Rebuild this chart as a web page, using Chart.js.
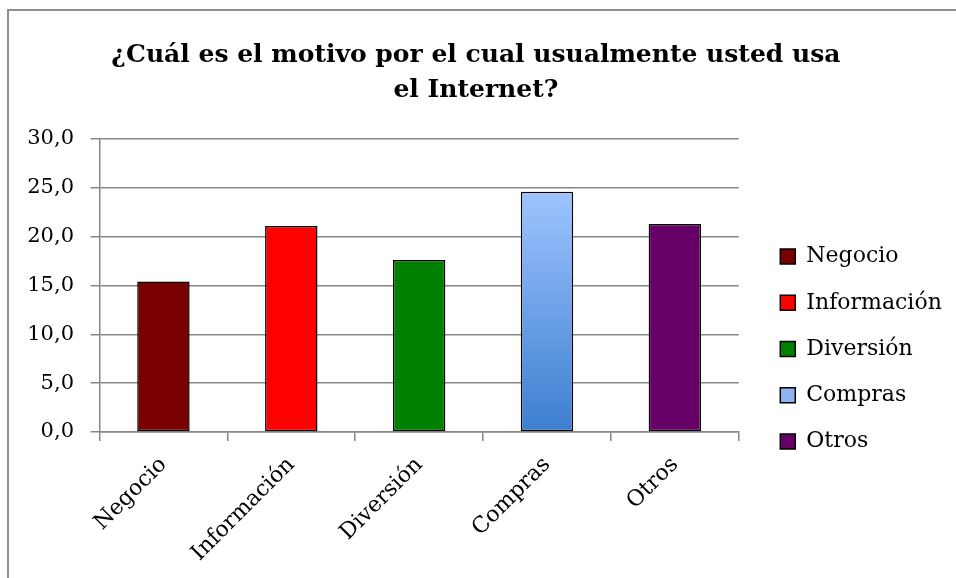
<!DOCTYPE html>
<html>
<head>
<meta charset="utf-8">
<script src="https://cdn.jsdelivr.net/npm/chart.js@4/dist/chart.umd.min.js"></script>
<style>
  html, body { margin: 0; padding: 0; background: #fff; }
  #wrap { position: relative; width: 956px; height: 578px; overflow: hidden; }
  #frame { position: absolute; left: 7px; top: 9px; width: 1000px; height: 1000px;
           border: 2px solid #8f8f8f; pointer-events: none; }
</style>
</head>
<body>
<div id="wrap">
  <canvas id="chart" width="956" height="578"></canvas>
  <div id="frame"></div>
</div>
<script>
  const categories = ["Negocio", "Información", "Diversión", "Compras", "Otros"];
  const values = [15.4, 21.1, 17.6, 24.6, 21.3];
  const barColors = ["#7a0000", "#ff0000", "#008000", "#8db4ee", "#660066"];
  const yMax = 30;
  const yStep = 5;

  const serif = "'DejaVu Serif', serif";
  const gridGray = "#878787";

  // light-to-dark blue fill for the "Compras" bar
  function barFill(ctx) {
    const i = ctx.dataIndex;
    if (categories[i] !== "Compras") return barColors[i];
    const chart = ctx.chart;
    if (!chart.chartArea) return barColors[i];
    const y = chart.scales.y;
    const g = chart.ctx.createLinearGradient(0, y.getPixelForValue(values[i]), 0, y.getPixelForValue(0));
    g.addColorStop(0, "#9ec4ff");
    g.addColorStop(1, "#3c7ecf");
    return g;
  }

  new Chart(document.getElementById("chart"), {
    type: "bar",
    data: {
      labels: categories,
      datasets: [{
        data: values,
        backgroundColor: barFill,
        borderColor: "#000",
        borderWidth: 1.5,
        borderSkipped: false,
        barPercentage: 0.41,
        categoryPercentage: 1,
      }],
    },
    options: {
      responsive: false,
      animation: false,
      events: [],
      layout: { padding: { left: 0, right: 4.2, top: 0, bottom: 0 } },
      plugins: {
        tooltip: { enabled: false },
        title: {
          display: true,
          text: ["¿Cuál es el motivo por el cual usualmente usted usa", "el Internet?"],
          color: "#000",
          font: { family: serif, size: 25, weight: "bold", lineHeight: 1.4 },
          padding: { top: 37.5, bottom: 31.5 },
        },
        legend: {
          position: "right",
          align: "start",
          maxWidth: 260,
          title: { display: true, text: "", padding: { top: 207, bottom: 0 } },
          labels: {
            boxWidth: 15,
            boxHeight: 15,
            padding: 24.2,
            color: "#000",
            font: { family: serif, size: 22 },
            generateLabels: (chart) =>
              chart.data.labels.map((label, i) => ({
                text: label,
                fillStyle: barColors[i],
                strokeStyle: "#000",
                fontColor: "#000",
                lineWidth: 1.5,
                index: i,
              })),
          },
        },
      },
      scales: {
        x: {
          offset: true,
          grid: { offset: true, drawOnChartArea: false, tickLength: 9, color: gridGray, lineWidth: 1.5 },
          border: { color: gridGray, width: 1.5 },
          ticks: { minRotation: 45, maxRotation: 45, padding: 11, color: "#000", font: { family: serif, size: 22 } },
          afterFit: (s) => { s.height = 146; },
        },
        y: {
          min: 0,
          max: yMax,
          grid: { color: gridGray, lineWidth: 1.5, tickLength: 9 },
          border: { color: gridGray, width: 1.5 },
          ticks: {
            stepSize: yStep,
            padding: 16.5,
            color: "#000",
            font: { family: serif, size: 21 },
            callback: (v) => v.toFixed(1).replace(".", ","),
          },
          afterFit: (s) => { s.width = 99.5; },
        },
        // empty gap between the plot and the legend
        gap: {
          axis: "y",
          position: "right",
          grid: { display: false },
          border: { display: false },
          ticks: { display: false },
          afterFit: (s) => { s.width = 17.3; },
        },
      },
    },
  });
</script>
</body>
</html>
